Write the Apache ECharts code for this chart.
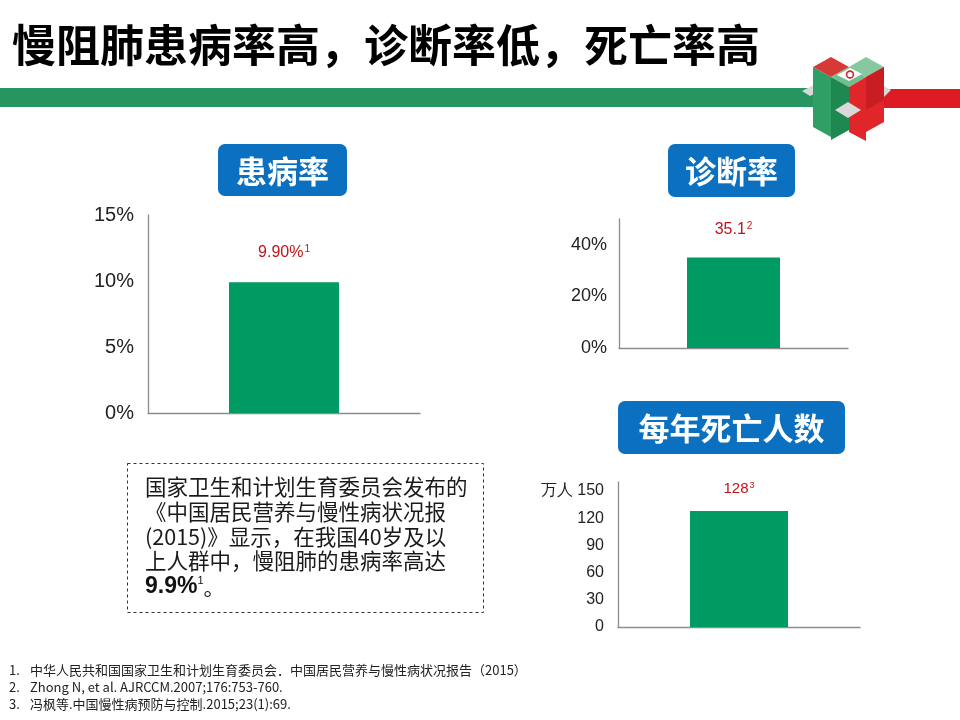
<!DOCTYPE html>
<html><head><meta charset="utf-8">
<script src="https://cdn.jsdelivr.net/npm/echarts@6/dist/echarts.min.js"></script>
<style>html,body{margin:0;padding:0;background:#fff}#c{width:960px;height:720px}</style>
</head><body><div id="c"></div>
<script>
// ---- data ----
const pageTitle = '慢阻肺患病率高，诊断率低，死亡率高';
const panelTitles = ['患病率', '诊断率', '每年死亡人数'];
const categories = [''];
const prevalence = [9.9];      // %
const diagnosis = [35.1];      // %
const deaths = [128];          // 万人
const noteRefs = ['1', '2', '3'];
const deathUnit = '万人';
const paragraph = [
  '国家卫生和计划生育委员会发布的',
  '《中国居民营养与慢性病状况报',
  '(2015)》显示，在我国40岁及以',
  '上人群中，慢阻肺的患病率高达'
];
const paragraphLast = ['9.9%', '1', '。'];
const footnotes = [
  ['1.', '中华人民共和国国家卫生和计划生育委员会．中国居民营养与慢性病状况报告（2015）'],
  ['2.', 'Zhong N, et al. AJRCCM.2007;176:753-760.'],
  ['3.', '冯枫等.中国慢性病预防与控制.2015;23(1):69.']
];

// ---- styles ----
const CJK = '"Noto Sans CJK SC", "Noto Sans", sans-serif';
const LAT = '"Liberation Sans", Arial, sans-serif';
const GREEN = '#009b62';
const RED = '#c0141c';
const BLUE = '#0a70bf';
const AXIS = '#8c8c8c';

const chart = echarts.init(document.getElementById('c'), null, {renderer: 'canvas'});

function xAx(i) {
  return {
    type: 'category', gridIndex: i, data: categories,
    axisLine: {show: true, lineStyle: {color: AXIS, width: 1.3}},
    axisTick: {show: false}, axisLabel: {show: false}, splitLine: {show: false}
  };
}
function yAx(i, max, interval, fmt, size, margin) {
  return {
    type: 'value', gridIndex: i, min: 0, max: max, interval: interval,
    axisLine: {show: true, lineStyle: {color: AXIS, width: 1.3}},
    axisTick: {show: false}, splitLine: {show: false},
    axisLabel: {formatter: fmt, color: '#222', fontSize: size, fontFamily: LAT,
                margin: margin, showMaxLabel: interval * Math.round(max / interval) === max}
  };
}
function barLabel(text, note, size, dist) {
  return {
    show: true, position: 'top', distance: dist,
    formatter: () => '{v|' + text + '}{s|' + note + '}',
    rich: {
      v: {fontSize: size, color: RED, fontFamily: LAT},
      s: {fontSize: Math.round(size * 0.6), color: RED, fontFamily: LAT, verticalAlign: 'top', padding: [0, 0, 0, 1]}
    }
  };
}
function badge(x, y, w, h, text) {
  return [
    {type: 'rect', shape: {x: x, y: y, width: w, height: h, r: 7}, style: {fill: BLUE}},
    {type: 'text', x: x + w / 2, y: y + h / 2 + 1,
     style: {text: text, fill: '#fff', font: 'bold 31px ' + CJK, align: 'center', verticalAlign: 'middle'}}
  ];
}

const graphics = [];
// title
graphics.push({type: 'text', x: 12, y: 45,
  style: {text: pageTitle, fill: '#000', font: 'bold 44px ' + CJK, verticalAlign: 'middle'}});
// bands
graphics.push({type: 'rect', shape: {x: 0, y: 88, width: 824, height: 19}, style: {fill: '#27955f'}});
graphics.push({type: 'rect', shape: {x: 866, y: 89, width: 94, height: 19}, style: {fill: '#dd1b22'}});
// logo (approximation)
const logoPolys = [
  {p: [[802, 91], [814, 85], [822, 90], [810, 96]], c: '#d8d8d8'},
  {p: [[878, 83], [891, 90], [883, 98], [870, 91]], c: '#d8d8d8'},
  {p: [[813, 67], [831, 77], [831, 137], [813, 127]], c: '#2f9f66'},
  {p: [[813, 67], [831, 57], [849, 67], [831, 77]], c: '#d63a36'},
  {p: [[849, 67], [866, 57], [884, 67], [866, 77]], c: '#86c9a0'},
  {p: [[831, 77], [849, 67], [866, 77], [849, 87]], c: '#6fbf90'},
  {p: [[831, 77], [849, 87], [849, 130], [831, 140]], c: '#1d8850'},
  {p: [[849, 87], [866, 77], [884, 67], [884, 122], [866, 132], [866, 141], [849, 132]], c: '#e0262b'},
  {p: [[866, 77], [884, 67], [884, 100], [866, 110]], c: '#c81e23'},
  {p: [[835, 110], [848, 102], [861, 110], [848, 118]], c: '#d9d9d9'},
  {p: [[837, 75], [850, 68], [862, 74], [849, 81]], c: '#ffffff'}
];
logoPolys.forEach(o => graphics.push({type: 'polygon', shape: {points: o.p}, style: {fill: o.c}}));
graphics.push({type: 'circle', shape: {cx: 850, cy: 74.5, r: 3.4}, style: {fill: 'none', stroke: '#d1262b', lineWidth: 1.6}});
// badges
graphics.push(...badge(218, 144, 129, 52, panelTitles[0]));
graphics.push(...badge(668, 144, 127, 53, panelTitles[1]));
graphics.push(...badge(618, 401, 227, 53, panelTitles[2]));
// dashed text box
graphics.push({type: 'rect', shape: {x: 127.5, y: 463.5, width: 356, height: 149},
  style: {fill: 'none', stroke: '#333', lineWidth: 1, lineDash: [3, 3]}});
const pY = [487, 512, 537, 561];
paragraph.forEach((t, i) => graphics.push({type: 'text', x: 145, y: pY[i],
  style: {text: t, fill: '#1a1a1a', font: '21.5px ' + CJK, verticalAlign: 'middle'}}));
graphics.push({type: 'text', x: 145, y: 587,
  style: {
    text: '{b|' + paragraphLast[0] + '}{s|' + paragraphLast[1] + '}{n|' + paragraphLast[2] + '}',
    verticalAlign: 'middle',
    rich: {
      b: {fontSize: 23, fontWeight: 'bold', fill: '#111', fontFamily: LAT},
      s: {fontSize: 11, fill: '#111', fontFamily: LAT, verticalAlign: 'top'},
      n: {fontSize: 21, fill: '#111', fontFamily: CJK}
    }
  }});
// footnotes
const fY = [670, 687, 704];
footnotes.forEach((f, i) => {
  graphics.push({type: 'text', x: 9, y: fY[i], style: {text: f[0], fill: '#222', font: '13px ' + CJK, verticalAlign: 'middle'}});
  graphics.push({type: 'text', x: 30, y: fY[i], style: {text: f[1], fill: '#222', font: '13px ' + CJK, verticalAlign: 'middle'}});
});

const option = {
  backgroundColor: '#fff',
  animation: false,
  grid: [
    {left: 148, top: 215, width: 272, height: 198, containLabel: false, outerBoundsMode: 'none'},
    {left: 619, top: 219, width: 229, height: 129, containLabel: false, outerBoundsMode: 'none'},
    {left: 618, top: 482, width: 242, height: 145, containLabel: false, outerBoundsMode: 'none'}
  ],
  xAxis: [xAx(0), xAx(1), xAx(2)],
  yAxis: [
    yAx(0, 15, 5, '{value}%', 20, 14),
    yAx(1, 50, 20, '{value}%', 18, 12),
    yAx(2, 160, 30, v => (v === 150 ? deathUnit + ' ' + v : String(v)), 16, 14)
  ],
  series: [
    {type: 'bar', xAxisIndex: 0, yAxisIndex: 0, data: prevalence, barWidth: 110,
     itemStyle: {color: GREEN}, label: barLabel(prevalence[0].toFixed(2) + '%', noteRefs[0], 16, 22)},
    {type: 'bar', xAxisIndex: 1, yAxisIndex: 1, data: diagnosis, barWidth: 93,
     itemStyle: {color: GREEN}, label: barLabel(String(diagnosis[0]), noteRefs[1], 16, 20)},
    {type: 'bar', xAxisIndex: 2, yAxisIndex: 2, data: deaths, barWidth: 98,
     itemStyle: {color: GREEN}, label: barLabel(String(deaths[0]), noteRefs[2], 15, 15)}
  ],
  graphic: graphics
};
chart.setOption(option);
</script></body></html>
